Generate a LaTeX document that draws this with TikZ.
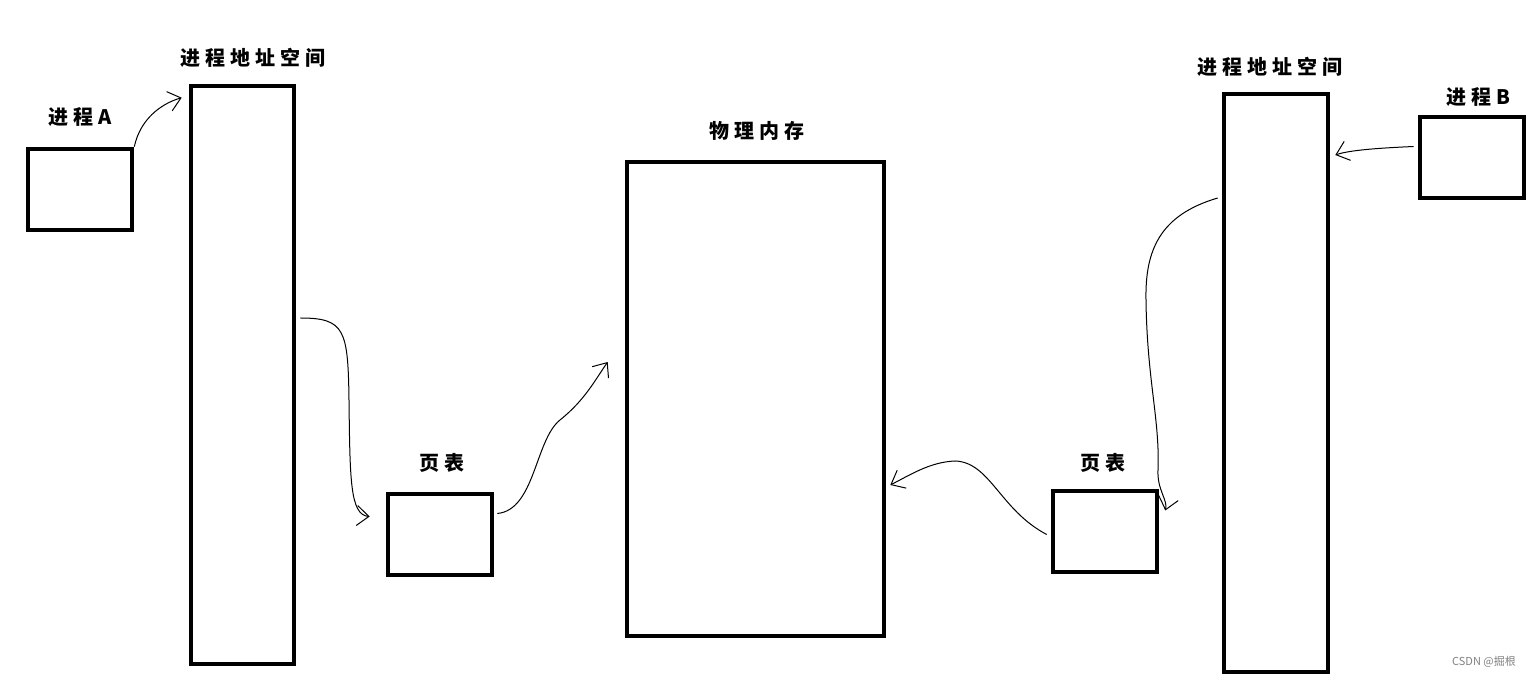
\documentclass[tikz,border=0pt]{standalone}
\usepackage{fontspec}
\newfontfamily\cjk[LetterSpace=25]{Noto Sans CJK SC}
\newfontfamily\wm{Noto Sans CJK SC}
\usepackage{tikz}
\usetikzlibrary{arrows.meta, positioning, calc}

\begin{document}
\begin{tikzpicture}[x=0.5pt, y=-0.5pt,
    box/.style={draw, line width=2.3pt, minimum width=52pt, inner sep=0pt},
    lbl/.style={font=\cjk\bfseries\fontsize{10}{11}\selectfont, inner sep=0pt},
    arr/.style={line width=0.5pt, -{Straight Barb[length=6pt, width=10pt]}}]
    \useasboundingbox (0,0) rectangle (1533,678);

    \node[box, minimum height=40.5pt] (pa) at (80,189.5) {};
    \node[box, minimum width=51.5pt, minimum height=289pt] (lspace) at (242.5,375) {};
    \node[box, minimum height=40.5pt] (lpt) at (440,534.5) {};
    \node[box, minimum width=128.5pt, minimum height=237pt] (mem) at (755.5,399) {};
    \node[box, minimum height=40.5pt] (rpt) at (1105,531.5) {};
    \node[box, minimum height=289pt] (rspace) at (1276,383) {};
    \node[box, minimum height=40.5pt] (pb) at (1472,157.5) {};

    \node[lbl] (pa_lbl) at (80,117) {进程A};
    \node[lbl] (lspace_lbl) at (253,58) {进程地址空间};
    \node[lbl] (lpt_lbl) at (442,463) {页表};
    \node[lbl] (mem_lbl) at (757,131) {物理内存};
    \node[lbl] (rpt_lbl) at (1103,463) {页表};
    \node[lbl] (rspace_lbl) at (1270,67) {进程地址空间};
    \node[lbl] (pb_lbl) at (1478,97) {进程B};
    \node[font=\wm\fontsize{5.5}{6}\selectfont, text=gray, inner sep=0pt] (mark) at (1484,662) {CSDN @掘根};

    \draw[arr] (pa.north east) .. controls (140,120) and (160,104) .. ($(lspace.north west)+(-7,14)$);
    \draw[arr] ($(lspace.east)+(4,-57)$) .. controls (345,318) and (348,330) .. (349,400)
        .. controls (350,480) and (350,515) .. ($(lpt.west)+(-16,-18)$);
    \draw[arr] ($(lpt.east)+(3,-21)$) .. controls (535,510) and (535,440) .. (560,420)
        .. controls (585,400) and (595,380) .. ($(mem.west)+(-17,-37)$);
    \draw[arr] ($(rpt.west)+(-4,3)$) .. controls (1000,510) and (990,462) .. (955,461)
        .. controls (930,462) and (910,475) .. ($(mem.east)+(4,86)$);
    \draw[arr] ($(rspace.west)+(-4,-185)$) .. controls (1160,215) and (1145,250) .. (1146,300)
        .. controls (1147,380) and (1160,420) .. (1158,470)
        .. controls (1157,490) and (1168,500) .. ($(rpt.east)+(6,-21)$);
    \draw[arr] ($(pb.west)+(-4,-11)$) .. controls (1380,148) and (1350,150) .. ($(rspace.east)+(5,-228)$);
\end{tikzpicture}
\end{document}
